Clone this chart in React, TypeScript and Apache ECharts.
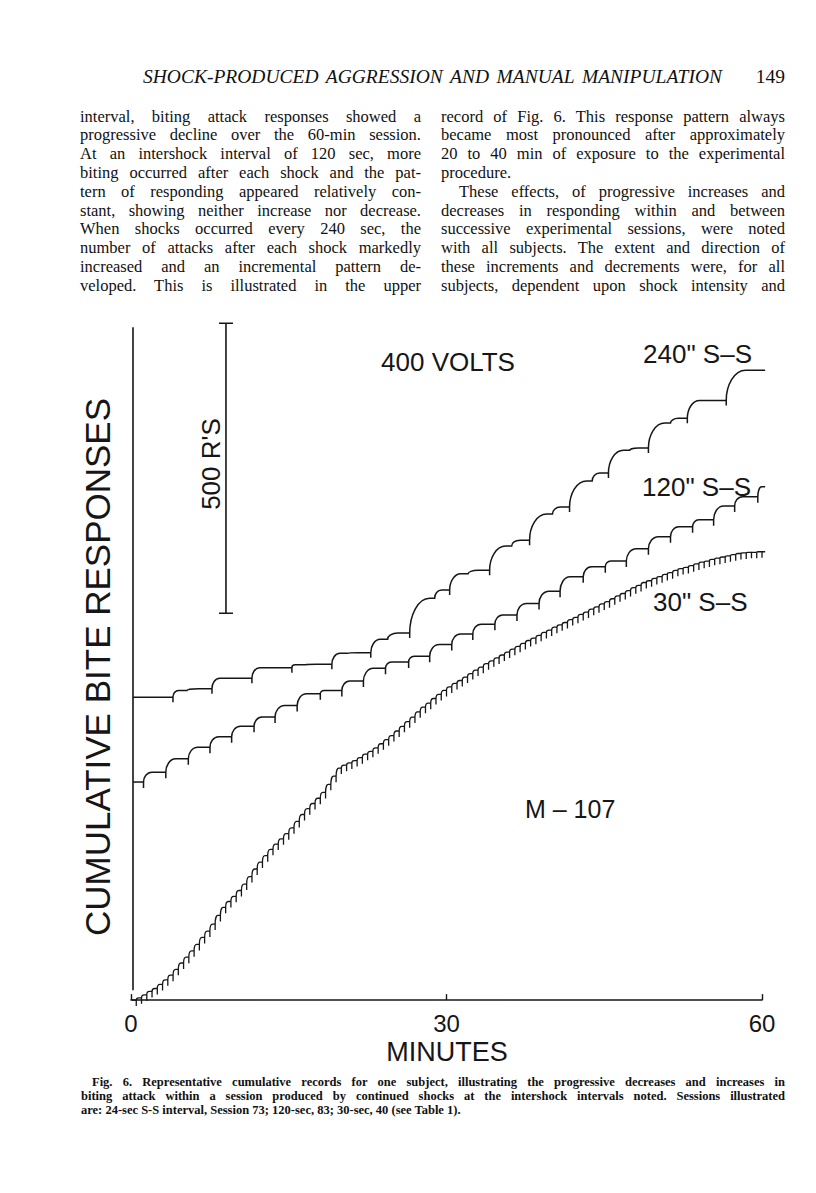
import React, { useEffect, useRef } from "react";
import * as echarts from "echarts";

// ---------------- data ----------------
const xTicks = [0, 30, 60];
const recordEnd = 60.3;

// 240-sec S-S record
const start240 = { t: 0.2, level: 522 };
const shock240 = [3.99, 7.7, 11.5, 15.3, 19.1, 22.8, 26.5, 30.3, 34.1, 37.9, 41.7, 45.4, 49.2, 52.9, 56.6];
const burst240 = [534, 555, 573, 578, 598, 622, 693, 735, 783, 838, 895, 948, 995, 1034, 1086];
const level240 = [537, 555, 573, 579, 599, 633, 707, 741, 793, 850, 909, 952, 1003, 1034, 1086];

// 120-sec S-S record
const start120 = { t: 0.2, level: 376 };
const shock120 = [1.19, 3.31, 5.45, 7.51, 9.57, 11.7, 13.7, 15.8, 18.0, 20.05, 22.1, 24.2, 26.4, 28.4, 30.5, 32.5, 34.6, 36.7, 38.8, 40.8, 43.0, 45.1, 47.1, 49.2, 51.3, 53.4, 55.4, 57.4, 59.6];
const level120 = [393, 416, 436, 454, 472, 488, 508, 528, 534, 550, 572, 583, 593, 613, 631, 648, 664, 684, 705, 730, 747, 757, 778, 799, 816, 828, 852, 868, 885];

// 30-sec S-S record (one value per shock, every 0.5 min)
const start30 = { t: 0.1, level: 0 };
const interval30 = 0.5;
const level30 = [
  4, 9, 15, 20, 27, 35, 43, 53, 64, 74,
  85, 96, 108, 119, 131, 146, 160, 170, 179, 189,
  200, 213, 226, 238, 249, 260, 269, 278, 287, 297,
  308, 320, 330, 339, 348, 358, 372, 386, 400, 405,
  409, 413, 418, 424, 429, 435, 442, 449, 456, 464,
  472, 480, 488, 497, 505, 512, 520, 527, 534, 540,
  546, 551, 557, 563, 569, 574, 580, 585, 590, 595,
  600, 605, 610, 615, 620, 624, 629, 634, 638, 643,
  647, 651, 656, 660, 665, 669, 674, 678, 683, 687,
  692, 697, 701, 706, 711, 715, 720, 723, 727, 730,
  734, 737, 741, 744, 746, 749, 752, 755, 757, 760,
  762, 764, 766, 768, 770, 771, 772, 772, 773, 773,
];

// calibration bar (500 responses) and the ordinate line
const scaleBar = { t: 9.03, from: 667, to: 1167 };
const ordinate = { t: 0.19, from: 17, to: 1160 };

// texts
const yTitle = "CUMULATIVE BITE RESPONSES";
const xTitle = "MINUTES";
const voltage = "400 VOLTS";
const scaleText = "500 R'S";
const label240 = '240" S\u2013S';
const label120 = '120" S\u2013S';
const label30 = '30" S\u2013S';
const subject = "M \u2013 107";

const headerText = "SHOCK-PRODUCED AGGRESSION AND MANUAL MANIPULATION";
const pageNumber = "149";
const leftColumn = [
  "interval, biting attack responses showed a",
  "progressive decline over the 60-min session.",
  "At an intershock interval of 120 sec, more",
  "biting occurred after each shock and the pat-",
  "tern of responding appeared relatively con-",
  "stant, showing neither increase nor decrease.",
  "When shocks occurred every 240 sec, the",
  "number of attacks after each shock markedly",
  "increased and an incremental pattern de-",
  "veloped. This is illustrated in the upper",
];
const rightColumn = [
  "record of Fig. 6. This response pattern always",
  "became most pronounced after approximately",
  "20 to 40 min of exposure to the experimental",
  "procedure.",
  "These effects, of progressive increases and",
  "decreases in responding within and between",
  "successive experimental sessions, were noted",
  "with all subjects. The extent and direction of",
  "these increments and decrements were, for all",
  "subjects, dependent upon shock intensity and",
];
const captionLines = [
  "Fig. 6. Representative cumulative records for one subject, illustrating the progressive decreases and increases in",
  "biting attack within a session produced by continued shocks at the intershock intervals noted. Sessions illustrated",
  "are: 24-sec S-S interval, Session 73; 120-sec, 83; 30-sec, 40 (see Table 1).",
];

// ---------------- helpers ----------------
type Start = { t: number; level: number };

function buildItems(start: Start, times: number[], tops: number[], finals: number[]) {
  const items: number[][] = [];
  items.push([start.t, start.level, start.level, times[0], 0, start.level]);
  for (let i = 0; i < times.length; i++) {
    const before = i === 0 ? start.level : finals[i - 1];
    const next = i + 1 < times.length ? times[i + 1] : recordEnd;
    items.push([times[i], before, tops[i], next, 1, finals[i]]);
  }
  return items;
}

const times30 = level30.map((_, i) => (i + 1) * interval30);

const INK = "#161616";

function recordRenderer(curlMax: number, curlRatio: number, tickPx: number, lw: number) {
  return (_params: any, api: any) => {
    const t = api.value(0);
    const lb = api.value(1);
    const lt = api.value(2);
    const tn = api.value(3);
    const shock = api.value(4);
    const lf = api.value(5);
    const a = api.coord([t, lb]);
    const b = api.coord([t, lt]);
    const e = api.coord([tn, lf]);
    let d = "";
    if (!shock) {
      d = `M${a[0]} ${a[1]}L${e[0]} ${e[1]}`;
    } else {
      const rise = a[1] - b[1];
      const span = e[0] - a[0];
      const cw = Math.max(1.4, Math.min(curlMax, rise * curlRatio + 1.5, span * 0.5));
      d += `M${a[0]} ${a[1] + tickPx}L${a[0]} ${a[1]}`;
      d += `C${a[0]} ${b[1] + rise * 0.5} ${a[0] + cw * 0.4} ${b[1]} ${a[0] + cw} ${b[1]}`;
      if (lf > lt) {
        const f = api.coord([tn, lf]);
        const mx = a[0] + cw + (span - cw) * 0.25;
        const r2 = b[1] - f[1];
        const cw2 = Math.min(curlMax * 0.6, (span - cw) * 0.35);
        d += `L${mx} ${b[1]}C${mx} ${b[1] - r2 * 0.5} ${mx + cw2 * 0.4} ${f[1]} ${mx + cw2} ${f[1]}`;
      }
      d += `L${e[0]} ${e[1]}`;
    }
    return {
      type: "path",
      shape: { pathData: d },
      style: { fill: "none", stroke: INK, lineWidth: lw },
      silent: true,
    };
  };
}

function barRenderer(capPx: number, lw: number) {
  return (_params: any, api: any) => {
    const t = api.value(0);
    const p0 = api.coord([t, api.value(1)]);
    const p1 = api.coord([t, api.value(2)]);
    const cap = api.value(3);
    let d = `M${p0[0]} ${p0[1]}L${p1[0]} ${p1[1]}`;
    if (cap) {
      d += `M${p0[0] - capPx} ${p0[1]}L${p0[0] + capPx} ${p0[1]}`;
      d += `M${p1[0] - capPx} ${p1[1]}L${p1[0] + capPx} ${p1[1]}`;
    }
    return {
      type: "path",
      shape: { pathData: d },
      style: { fill: "none", stroke: INK, lineWidth: lw },
      silent: true,
    };
  };
}

const SANS = '"Liberation Sans", Arial, sans-serif';
const SERIF = '"Liberation Serif", "Times New Roman", serif';

function txt(text: string, x: number, y: number, fontSize: number, align: string, rotation = 0) {
  return {
    type: "text",
    x,
    y,
    rotation,
    silent: true,
    style: {
      text,
      fontSize,
      fontFamily: SANS,
      fill: INK,
      align,
      textAlign: align,
      verticalAlign: "middle",
      textVerticalAlign: "middle",
    },
  };
}

function buildOption() {
  return {
    animation: false,
    backgroundColor: "transparent",
    grid: { left: 131, top: 315.7, width: 631, height: 687.3, containLabel: false },
    xAxis: {
      type: "value",
      min: xTicks[0],
      max: xTicks[xTicks.length - 1],
      interval: 30,
      axisLine: { show: true, lineStyle: { color: INK, width: 1.6 } },
      axisTick: { show: true, inside: true, length: 6, lineStyle: { color: INK, width: 1.4 } },
      axisLabel: { fontSize: 24, fontFamily: SANS, color: INK, margin: 8 },
      splitLine: { show: false },
    },
    yAxis: {
      type: "value",
      min: -5,
      max: 1180,
      show: false,
      splitLine: { show: false },
    },
    series: [
      {
        type: "custom",
        name: "240 S-S",
        clip: false,
        renderItem: recordRenderer(20, 0.6, 5, 1.5),
        data: buildItems(start240, shock240, burst240, level240),
      },
      {
        type: "custom",
        name: "120 S-S",
        clip: false,
        renderItem: recordRenderer(10, 0.7, 6, 1.5),
        data: buildItems(start120, shock120, level120, level120),
      },
      {
        type: "custom",
        name: "30 S-S",
        clip: false,
        renderItem: recordRenderer(2.8, 0.4, 6, 1.3),
        data: buildItems(start30, times30, level30, level30),
      },
      {
        type: "custom",
        name: "bars",
        clip: false,
        renderItem: barRenderer(7, 1.6),
        data: [
          [ordinate.t, ordinate.from, ordinate.to, 0],
          [scaleBar.t, scaleBar.from, scaleBar.to, 1],
        ],
      },
    ],
    graphic: [
      txt(yTitle, 97, 667, 35, "center", Math.PI / 2),
      txt(scaleText, 211, 464, 26, "center", Math.PI / 2),
      txt(voltage, 448, 362, 26, "center"),
      txt(label240, 643, 354, 26, "left"),
      txt(label120, 642, 487, 26, "left"),
      txt(label30, 653, 602, 26, "left"),
      txt(subject, 525, 809, 25, "left"),
      txt(xTitle, 447, 1052, 27, "center"),
    ],
  };
}

const bodyLine = (i: number): React.CSSProperties => ({
  position: "absolute",
  top: 117 - 9.4 + 18.78 * i,
  height: 18.8,
  lineHeight: "18.8px",
  fontSize: 16.5,
  fontFamily: SERIF,
  color: "#111",
  whiteSpace: "nowrap",
});

export default function App() {
  const ref = useRef<HTMLDivElement>(null);
  useEffect(() => {
    if (!ref.current) return;
    const chart = echarts.init(ref.current, null, { renderer: "svg" });
    chart.setOption(buildOption() as any);
    return () => chart.dispose();
  }, []);

  return (
    <div
      style={{
        position: "absolute",
        left: 0,
        top: 0,
        width: 816,
        height: 1193,
        background: "#fff",
        overflow: "hidden",
      }}
    >
      <div ref={ref} style={{ position: "absolute", left: 0, top: 0, width: 816, height: 1193 }} />
      <div
        style={{
          position: "absolute",
          left: 143,
          width: 579,
          top: 77 - 12,
          height: 24,
          lineHeight: "24px",
          fontSize: 19.5,
          fontStyle: "italic",
          fontFamily: SERIF,
          color: "#111",
          whiteSpace: "nowrap",
          textAlign: "justify",
          textAlignLast: "justify",
        }}
      >
        {headerText}
      </div>
      <div
        style={{
          position: "absolute",
          left: 745,
          width: 40,
          top: 77 - 12,
          height: 24,
          lineHeight: "24px",
          fontSize: 19.5,
          fontFamily: SERIF,
          color: "#111",
          textAlign: "right",
        }}
      >
        {pageNumber}
      </div>
      {leftColumn.map((s, i) => (
        <div
          key={"l" + i}
          style={{ ...bodyLine(i), left: 80, width: 341, textAlign: "justify", textAlignLast: "justify" }}
        >
          {s}
        </div>
      ))}
      {rightColumn.map((s, i) => {
        const last = i === 3;
        const indent = i === 4 ? 18 : 0;
        return (
          <div
            key={"r" + i}
            style={{
              ...bodyLine(i),
              left: 441 + indent,
              width: 344 - indent,
              textAlign: last ? "left" : "justify",
              textAlignLast: last ? "left" : "justify",
            }}
          >
            {s}
          </div>
        );
      })}
      {captionLines.map((s, i) => {
        const last = i === captionLines.length - 1;
        const indent = i === 0 ? 11 : 0;
        return (
          <div
            key={"c" + i}
            style={{
              position: "absolute",
              left: 81 + indent,
              width: 704 - indent,
              top: 1082 - 7 + 14 * i,
              height: 14,
              lineHeight: "14px",
              fontSize: 12.5,
              fontWeight: "bold",
              fontFamily: SERIF,
              color: "#111",
              whiteSpace: "nowrap",
              textAlign: last ? "left" : "justify",
              textAlignLast: last ? "left" : "justify",
            }}
          >
            {s}
          </div>
        );
      })}
    </div>
  );
}
